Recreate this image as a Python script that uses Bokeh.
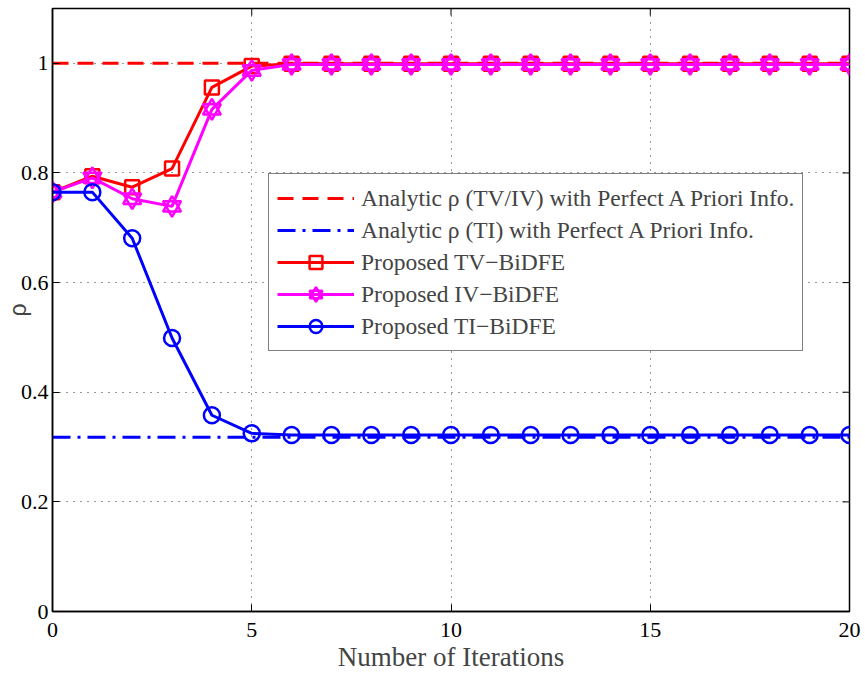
from bokeh.plotting import figure
from bokeh.models import Legend, LegendItem, FixedTicker, Range1d
from bokeh.embed import file_html
from bokeh.resources import INLINE

iters = list(range(0, 21))
tv = [0.765, 0.794, 0.774, 0.808, 0.956, 0.995] + [0.999] * 15
iv = [0.765, 0.791, 0.753, 0.739, 0.916, 0.987] + [0.998] * 15
ti = [0.765, 0.765, 0.681, 0.499, 0.358, 0.325] + [0.322] * 15
analytic_tviv = 1.0
analytic_ti = 0.318
x_ticks = [0, 5, 10, 15, 20]
y_ticks = [0, 0.2, 0.4, 0.6, 0.8, 1.0]

XMIN, XMAX, YMIN, YMAX = 0, 20, 0, 1.1
p = figure(width=865, height=679, output_backend="svg", toolbar_location=None,
           x_range=Range1d(XMIN, XMAX), y_range=Range1d(YMIN, YMAX),
           min_border_left=52, min_border_right=16, min_border_top=8, min_border_bottom=68)
p.outline_line_color = "black"
p.outline_line_width = 1.5

for ax in [p.xaxis[0], p.yaxis[0]]:
    ax.major_tick_in = 7
    ax.major_tick_out = 0
    ax.minor_tick_in = 0
    ax.minor_tick_out = 0
    ax.axis_line_color = "black"
    ax.axis_line_width = 1.5
    ax.major_label_text_font = "Liberation Sans Narrow"
    ax.major_label_text_font_size = "22px"
    ax.major_label_text_color = "black"
    ax.major_label_standoff = 4
p.xaxis.major_label_standoff = 11
p.xaxis.ticker = FixedTicker(ticks=x_ticks)
p.yaxis.ticker = FixedTicker(ticks=y_ticks)
p.yaxis.major_label_overrides = {0: "0", 1: "1"}
p.xaxis.axis_label = "Number of Iterations"
p.xaxis.axis_label_text_font = "Liberation Serif"
p.xaxis.axis_label_text_font_style = "normal"
p.xaxis.axis_label_text_font_size = "27px"
p.xaxis.axis_label_standoff = 2
p.yaxis.axis_label = "ρ"
p.yaxis.axis_label_text_font = "Liberation Sans"
p.yaxis.axis_label_text_font_style = "normal"
p.yaxis.axis_label_text_font_size = "23px"
p.yaxis.axis_label_standoff = -13

# inward ticks on top and right edges
xl_px = (XMAX - XMIN) / 797.0
ty = (YMAX - YMIN) / 603.0 * 7
tx = xl_px * 7
p.segment(x0=x_ticks, y0=[YMAX] * len(x_ticks), x1=x_ticks, y1=[YMAX - ty] * len(x_ticks),
          line_color="black", line_width=1)
p.segment(x0=[XMAX] * len(y_ticks), y0=y_ticks, x1=[XMAX - tx] * len(y_ticks), y1=y_ticks,
          line_color="black", line_width=1)

p.xgrid.ticker = FixedTicker(ticks=x_ticks)
p.ygrid.ticker = FixedTicker(ticks=y_ticks)
for g in [p.xgrid[0], p.ygrid[0]]:
    g.grid_line_color = "black"
    g.grid_line_dash = "1 6"
    g.grid_line_width = 1
    g.grid_line_alpha = 0.8

lw = 3
r_a1 = p.line([XMIN, XMAX], [analytic_tviv, analytic_tviv], color="red", line_width=lw, line_dash="16 9")
r_a2 = p.line([XMIN, XMAX], [analytic_ti, analytic_ti], color="blue", line_width=lw, line_dash="18 7 3 7")

r_tv = p.line(iters, tv, color="red", line_width=lw)
r_tvm = p.scatter(iters, tv, marker="square", size=14, fill_color=None, line_color="red", line_width=2.5)

r_iv = p.line(iters, iv, color="magenta", line_width=lw)
r_ivm1 = p.scatter(iters, iv, marker="triangle", size=18, fill_color=None, line_color="magenta", line_width=2.5)
r_ivm2 = p.scatter(iters, iv, marker="inverted_triangle", size=18, fill_color=None, line_color="magenta", line_width=2.5)

r_ti = p.line(iters, ti, color="blue", line_width=lw)
r_tim = p.scatter(iters, ti, marker="circle", size=16, fill_color=None, line_color="blue", line_width=2.5)

legend = Legend(items=[
    LegendItem(label="Analytic ρ (TV/IV) with Perfect A Priori Info.", renderers=[r_a1]),
    LegendItem(label="Analytic ρ (TI) with Perfect A Priori Info.", renderers=[r_a2]),
    LegendItem(label="Proposed TV−BiDFE", renderers=[r_tv, r_tvm]),
    LegendItem(label="Proposed IV−BiDFE", renderers=[r_iv, r_ivm1, r_ivm2]),
    LegendItem(label="Proposed TI−BiDFE", renderers=[r_ti, r_tim]),
], location=(216, 260))
legend.label_text_font = "Liberation Serif"
legend.label_text_font_size = "23.5px"
legend.glyph_width = 77
legend.glyph_height = 32
legend.label_height = 32
legend.spacing = 0
legend.padding = 8
legend.margin = 0
legend.label_standoff = 7
legend.border_line_color = "black"
legend.border_line_width = 1.5
legend.background_fill_alpha = 1
p.add_layout(legend, "center")

open("out.html", "w").write(file_html(p, INLINE))
